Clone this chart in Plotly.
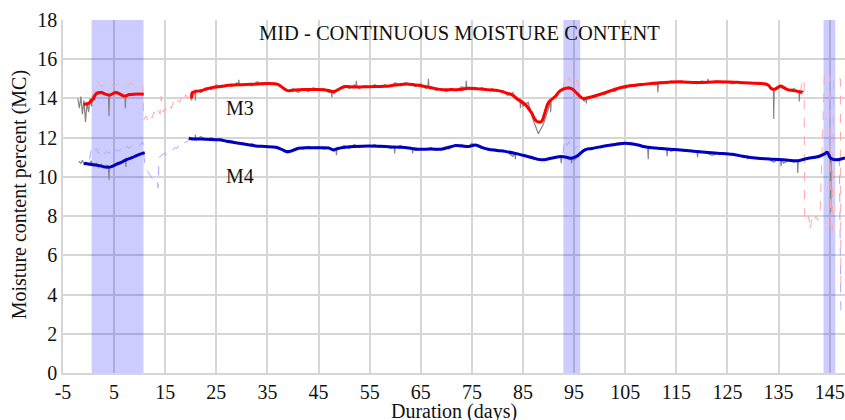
import plotly.graph_objects as go

# ---------------- data ----------------
x_ticks = [-5, 5, 15, 25, 35, 45, 55, 65, 75, 85, 95, 105, 115, 125, 135, 145]
y_ticks = [0, 2, 4, 6, 8, 10, 12, 14, 16, 18]

# shaded periods (days)
shade_start = [0.6, 92.9, 143.8]
shade_end = [10.75, 96.2, 146.1]

# M3 smoothed (red)
m3_s1_days = [-1.0, 0.0, 0.8, 1.6, 2.5, 3.3, 4.2, 5.3, 6.2, 7.0, 8.0, 9.0, 10.8]
m3_s1_vals = [13.7, 13.75, 13.95, 14.27, 14.3, 14.22, 14.18, 14.3, 14.22, 14.12, 14.2, 14.22, 14.22]
m3_s2_days = [20.2, 20.3, 22, 24, 26, 28, 30, 32, 35, 37, 38, 39, 40, 42, 45, 47, 48, 50, 52, 55, 58, 60,
              62.6, 65, 67, 69, 71, 72.5, 74.3, 76, 78, 80.2, 81.5, 82.7, 84, 85.4, 86.6, 87.6, 88.6, 89.2,
              90, 91.3, 92.3, 93.4, 94.5, 95.4, 96.4, 96.8, 98, 100, 102, 104.2, 106, 108.9, 112, 115.3,
              119.2, 123, 127, 130, 132.9, 133.6, 134.3, 134.8, 135.4, 136.1, 136.8, 138, 139.7]
m3_s2_vals = [14.0, 14.3, 14.4, 14.55, 14.62, 14.68, 14.7, 14.72, 14.76, 14.72, 14.55, 14.4, 14.42, 14.45,
              14.45, 14.4, 14.35, 14.6, 14.58, 14.6, 14.62, 14.68, 14.73, 14.65, 14.55, 14.45, 14.45, 14.45,
              14.52, 14.5, 14.45, 14.4, 14.3, 14.2, 13.95, 13.7, 13.3, 12.85, 12.82, 13.2, 13.8, 14.1, 14.4,
              14.52, 14.5, 14.3, 14.05, 14.0, 14.05, 14.2, 14.38, 14.56, 14.65, 14.73, 14.8, 14.85, 14.81,
              14.85, 14.82, 14.78, 14.7, 14.5, 14.47, 14.55, 14.64, 14.55, 14.45, 14.4, 14.3]

# M4 smoothed (blue)
m4_s1_days = [-0.9, 1, 2.5, 3.6, 4.5, 5.5, 6.5, 7.3, 8.5, 9.5, 11]
m4_s1_vals = [10.68, 10.62, 10.55, 10.49, 10.52, 10.65, 10.75, 10.87, 10.98, 11.1, 11.24]
m4_s2_days = [19.6, 20, 22, 25.5, 27, 29.4, 31, 32.7, 34.5, 36.6, 37.8, 38.8, 40, 41.1, 43, 45, 47, 47.9,
              48.8, 50.3, 52, 54.8, 58, 61.2, 63, 64.5, 67, 69, 70.5, 71.8, 73, 74.5, 75.7, 77, 78.2, 80,
              81.5, 83.5, 85, 86.5, 88.6, 90.5, 92.5, 93.5, 94.4, 95.5, 97.1, 98.5, 101, 103, 105, 107.5,
              108.5, 109.5, 112, 115.3, 118, 120, 123.1, 126, 128, 130.9, 134, 136, 138.8, 140, 142, 143,
              144, 144.5, 145.2, 146.2, 148]
m4_s2_vals = [11.97, 11.95, 11.93, 11.89, 11.82, 11.72, 11.65, 11.58, 11.55, 11.51, 11.4, 11.29, 11.35,
              11.46, 11.48, 11.48, 11.47, 11.38, 11.45, 11.51, 11.55, 11.58, 11.55, 11.51, 11.46, 11.41,
              11.42, 11.41, 11.5, 11.6, 11.58, 11.55, 11.63, 11.5, 11.41, 11.35, 11.3, 11.2, 11.1, 11.0,
              10.87, 10.95, 11.04, 11.0, 10.95, 11.05, 11.38, 11.45, 11.58, 11.65, 11.72, 11.63, 11.55,
              11.51, 11.45, 11.38, 11.32, 11.27, 11.21, 11.15, 11.05, 10.95, 10.9, 10.87, 10.82, 10.9,
              11.0, 11.05, 11.17, 11.25, 10.95, 10.87, 10.97]

# Raw readings (gray)
g3_s1_days = [-2.1, -1.8, -1.5, -1.2, -0.9, -0.6, -0.3, 0, 0.3, 0.6, 0.9, 1.2, 1.5, 2, 2.5, 3, 3.5, 3.9,
              4.0, 4.1, 5, 5.5, 6, 6.5, 7.1, 7.2, 7.3, 8, 8.5, 9, 9.5, 10, 10.5]
g3_s1_vals = [14.0, 13.5, 14.1, 13.2, 13.9, 12.8, 13.8, 13.3, 14.0, 13.6, 14.2, 13.9, 14.3, 14.2, 14.3,
              14.2, 14.2, 14.15, 13.1, 14.1, 14.3, 14.25, 14.2, 14.1, 14.15, 13.5, 14.1, 14.2, 14.15,
              14.25, 14.2, 14.2, 14.2]
g3_s2_days = list(range(20, 141))
g3_s2_vals = [13.9, 14.45, 14.3, 14.55, 14.45, 14.7, 14.55, 14.7, 14.6, 14.8, 14.65, 14.75, 14.65, 14.85,
              14.7, 14.8, 14.7, 14.75, 14.5, 14.35, 14.5, 14.3, 14.5, 14.35, 14.55, 14.4, 14.5, 14.3,
              14.25, 14.5, 14.65, 14.5, 14.7, 14.5, 14.65, 14.55, 14.7, 14.55, 14.7, 14.6, 14.8, 14.65,
              14.8, 14.7, 14.6, 14.75, 14.5, 14.6, 14.4, 14.5, 14.35, 14.5, 14.4, 14.6, 14.5, 14.45, 14.45,
              14.55, 14.4, 14.5, 14.35, 14.4, 14.15, 14.3, 13.9, 13.6, 13.8, 12.9, 12.2, 12.7, 13.5, 14.0,
              14.3, 14.45, 14.6, 14.4, 14.2, 13.85, 14.1, 14.05, 14.25, 14.2, 14.4, 14.35, 14.6, 14.5,
              14.7, 14.6, 14.75, 14.7, 14.75, 14.7, 14.85, 14.75, 14.9, 14.8, 14.9, 14.8, 14.85, 14.75,
              14.9, 14.8, 14.85, 14.9, 14.8, 14.85, 14.75, 14.85, 14.8, 14.75, 14.8, 14.7, 14.75, 14.6,
              14.5, 14.6, 14.5, 14.4, 14.5, 14.35, 14.35]
# thin spikes in the raw M3 trace (shoulder, tip, shoulder)
g3_spk_days = [20.8, 20.9, 21.05, 29.3, 29.4, 29.5, 47.5, 47.6, 47.7, 52.3, 52.4, 52.5, 66.4, 66.5, 66.6,
               73.8, 73.9, 74.05, 84.4, 84.5, 84.6, 90.3, 90.4, 90.55, 97.3, 97.4, 97.5, 111.3, 111.4,
               111.5, 121.1, 121.2, 121.3, 133.9, 134.05, 134.15, 138.9, 139.05, 139.15]
g3_spk_vals = [14.35, 13.9, 14.4, 14.7, 14.95, 14.7, 14.35, 14.05, 14.35, 14.6, 14.9, 14.6, 14.6, 15.0,
               14.6, 14.5, 14.9, 14.5, 14.0, 13.5, 13.95, 13.9, 13.3, 13.95, 14.05, 13.75, 14.05, 14.8,
               14.3, 14.8, 14.85, 15.0, 14.85, 14.5, 12.95, 14.5, 14.4, 13.85, 14.4]

g4_s1_days = [-1.9, -1.5, -1.2, -0.9, -0.5, 0, 0.5, 1, 1.5, 2, 2.5, 3, 3.5, 3.9, 4, 4.1, 4.5, 5, 6, 7,
              7.2, 7.3, 7.4, 8, 9, 10, 10.5]
g4_s1_vals = [10.8, 10.7, 10.85, 10.65, 10.75, 10.6, 10.8, 10.55, 10.7, 10.5, 10.65, 10.45, 10.6, 10.55,
              9.85, 10.5, 10.55, 10.6, 10.7, 10.8, 10.85, 10.5, 10.9, 10.95, 11.05, 11.15, 11.2]
g4_s2_days = list(range(20, 148))
g4_s2_vals = [12.0, 11.85, 12.05, 11.9, 12.0, 11.85, 11.95, 11.8, 11.85, 11.7, 11.75, 11.6, 11.7, 11.55,
              11.6, 11.5, 11.55, 11.45, 11.35, 11.2, 11.4, 11.5, 11.4, 11.55, 11.45, 11.55, 11.4, 11.5,
              11.3, 11.45, 11.6, 11.45, 11.65, 11.5, 11.6, 11.55, 11.65, 11.5, 11.6, 11.45, 11.55, 11.6,
              11.45, 11.5, 11.35, 11.45, 11.4, 11.5, 11.35, 11.45, 11.55, 11.6, 11.55, 11.65, 11.5, 11.7,
              11.55, 11.45, 11.4, 11.35, 11.3, 11.35, 11.25, 11.05, 11.2, 11.1, 11.0, 10.9, 10.85, 10.9,
              10.95, 11.0, 11.05, 11.0, 11.0, 10.85, 11.1, 11.3, 11.45, 11.5, 11.55, 11.6, 11.65, 11.7,
              11.75, 11.7, 11.75, 11.65, 11.6, 11.55, 11.5, 11.45, 11.5, 11.4, 11.3, 11.4, 11.35, 11.3,
              11.35, 11.3, 11.3, 11.2, 11.1, 11.2, 11.15, 11.2, 11.1, 11.15, 11.0, 11.05, 10.95, 11.0,
              10.9, 10.95, 10.75, 10.9, 10.7, 10.85, 10.75, 10.8, 10.9, 11.0, 10.95, 11.1, 11.2, 11.3,
              10.9, 10.95]
g4_spk_days = [20.8, 20.9, 21.05, 48.4, 48.5, 48.6, 59.8, 59.9, 60.05, 63.3, 63.4, 63.5, 83.4, 83.5, 83.6,
               92.35, 92.5, 92.6, 94.4, 94.5, 94.6, 109.4, 109.5, 109.6, 113.1, 113.2, 113.3, 119.05,
               119.15, 119.25, 128.8, 128.9, 128.95, 135.4, 135.5, 135.6, 138.7, 138.75, 138.85, 145.1,
               145.2, 145.3]
g4_spk_vals = [11.95, 12.15, 11.95, 11.4, 11.1, 11.4, 11.5, 11.2, 11.5, 11.45, 11.2, 11.45, 11.2, 10.9,
               11.2, 11.0, 10.7, 11.0, 10.95, 10.7, 10.95, 11.5, 10.9, 11.5, 11.4, 11.05, 11.4, 11.3,
               11.0, 11.3, 11.05, 10.9, 11.05, 10.85, 10.55, 10.85, 10.8, 10.2, 10.8, 11.2, 8.2, 11.0]

# Alternate sensor readings (dashed)
p3_s1_days = [0.5, 1.0, 1.7, 2.2, 2.8, 3.4, 4.0, 4.6, 5.2, 5.8, 6.4, 7.0, 7.6, 8.2, 8.8, 9.4, 10.0, 10.6,
              10.8, 11.2, 11.6, 12.0, 12.4, 12.8, 13.2, 13.6, 14.0, 14.2, 14.6, 15.0, 15.4, 15.8, 16.2,
              16.6, 17.0, 17.4, 17.8, 18.2, 18.6, 19.0, 19.4, 19.8, 20.2]
p3_s1_vals = [14.0, 14.3, 14.85, 14.7, 14.6, 14.75, 14.65, 14.7, 14.6, 14.75, 14.65, 14.7, 14.6, 14.8,
              14.65, 14.7, 14.7, 14.65, 12.9, 13.1, 12.9, 13.2, 13.0, 13.3, 13.1, 13.4, 13.2, 14.1, 13.3,
              13.5, 13.3, 13.6, 13.5, 13.8, 13.6, 13.9, 13.8, 14.1, 13.9, 14.2, 14.0, 14.3, 14.2]
p3_s2_days = [92.8, 93.2, 93.6, 94.0, 94.4, 94.8, 95.2, 95.6, 96.0, 96.3]
p3_s2_vals = [14.4, 15.1, 14.9, 15.05, 14.85, 15.0, 14.8, 14.95, 14.6, 14.3]
p3_s3_days = [139.3, 139.6, 140.0, 140.1, 140.5, 140.9, 141.2, 141.5, 141.9, 142.3, 142.7, 143.1, 144.0,
              144.6, 145.0, 145.2, 145.5, 145.8, 146.5, 147.1, 147.2]
p3_s3_vals = [14.3, 15.0, 14.9, 7.9, 7.7, 8.0, 7.3, 7.9, 7.7, 8.0, 7.8, 7.9, 15.4, 15.3, 15.2, 7.1, 7.2,
              15.1, 15.0, 15.0, 4.0]

b4_s1_days = [0.2, 0.6, 1.0, 1.5, 2.0, 2.5, 3.0, 3.5, 4.0, 4.5, 5.0, 5.5, 6.0, 6.5, 7.0, 7.5, 8.0, 8.5,
              9.0, 9.5, 10.0, 10.6, 11.0, 11.5, 12.0, 12.5, 13.0, 13.4, 13.6, 13.8, 14.3, 14.8, 15.3,
              15.8, 16.3, 16.8, 17.3, 17.8, 18.3, 18.8, 19.3, 19.7]
b4_s1_vals = [10.9, 11.5, 11.3, 11.45, 11.2, 11.4, 11.15, 11.3, 11.2, 11.45, 11.25, 11.4, 11.3, 11.5,
              11.35, 11.55, 11.45, 11.6, 11.5, 11.65, 11.6, 11.8, 10.6, 10.3, 10.1, 9.9, 9.7, 9.8, 9.45,
              11.0, 11.1, 11.2, 11.15, 11.35, 11.3, 11.5, 11.45, 11.7, 11.6, 11.75, 11.8, 11.9]
b4_s2_days = [92.8, 93.2, 93.6, 94.0, 94.4, 94.8, 95.2, 95.6, 96.0, 96.3]
b4_s2_vals = [11.2, 11.9, 11.6, 11.8, 11.5, 11.75, 11.45, 11.6, 11.3, 11.1]
b4_s3_days = [146.9, 147.2]
b4_s3_vals = [11.0, 2.9]

# ---------------- figure ----------------
SERIF = "Liberation Serif"
GRID = "#d6d6d6"
GRAY = "#858585"

fig = go.Figure()


def seg(days, vals, color, width, dash="solid", shape="linear"):
    pts = sorted(zip(days, vals))
    fig.add_trace(go.Scatter(
        x=[p[0] for p in pts], y=[p[1] for p in pts], mode="lines",
        line=dict(color=color, width=width, dash=dash, shape=shape),
        hoverinfo="skip", showlegend=False))


# raw gray
seg(g3_s1_days, g3_s1_vals, GRAY, 1.2)
seg(g3_s2_days + g3_spk_days, g3_s2_vals + g3_spk_vals, GRAY, 1.2)
seg(g4_s1_days, g4_s1_vals, GRAY, 1.2)
seg(g4_s2_days + g4_spk_days, g4_s2_vals + g4_spk_vals, GRAY, 1.2)

# dashed alternates
for d, v in [(b4_s1_days, b4_s1_vals), (b4_s2_days, b4_s2_vals), (b4_s3_days, b4_s3_vals)]:
    seg(d, v, "#a9a9ff", 1, dash="dash")
for d, v in [(p3_s1_days, p3_s1_vals), (p3_s2_days, p3_s2_vals), (p3_s3_days, p3_s3_vals)]:
    seg(d, v, "#ffa8a8", 1, dash="dash")

# smoothed
seg(m3_s1_days, m3_s1_vals, "#ff0000", 3, shape="spline")
seg(m3_s2_days, m3_s2_vals, "#ff0000", 3, shape="spline")
seg(m4_s1_days, m4_s1_vals, "#0000c0", 3, shape="spline")
seg(m4_s2_days, m4_s2_vals, "#0000c0", 3, shape="spline")

for a, b in zip(shade_start, shade_end):
    fig.add_shape(type="rect", xref="x", yref="y", x0=a, x1=b, y0=0, y1=18,
                  fillcolor="rgba(0,0,255,0.2)", line=dict(width=0), layer="between")

fig.add_annotation(text="M3", x=29.6, y=13.5, xref="x", yref="y", showarrow=False,
                   font=dict(family=SERIF, size=20, color="#111"))
fig.add_annotation(text="M4", x=29.6, y=10.04, xref="x", yref="y", showarrow=False,
                   font=dict(family=SERIF, size=20, color="#111"))
fig.add_annotation(text="MID - CONTINUOUS MOISTURE CONTENT", x=0.507, y=0.963, xref="paper",
                   yref="paper", showarrow=False, xanchor="center", yanchor="middle",
                   font=dict(family=SERIF, size=20.5, color="#111"))
fig.add_annotation(text="Moisture content percent (MC)", x=-0.056, y=0.504, xref="paper",
                   yref="paper", showarrow=False, textangle=-90, xanchor="center", yanchor="middle",
                   font=dict(family=SERIF, size=20, color="#111"))
fig.add_annotation(text="Duration (days)", x=0.5, y=-0.108, xref="paper", yref="paper",
                   showarrow=False, xanchor="center", yanchor="middle",
                   font=dict(family=SERIF, size=20, color="#111"))

fig.update_layout(
    width=845, height=420,
    margin=dict(l=63, r=0, t=20, b=47),
    paper_bgcolor="white", plot_bgcolor="white",
    font=dict(family=SERIF, size=20, color="#111"),
    xaxis=dict(range=[-5, 148], tickvals=x_ticks, ticktext=[str(t) for t in x_ticks],
               showgrid=True, gridcolor=GRID, gridwidth=1.5, zeroline=False, automargin=False,
               showline=True, linecolor=GRID, linewidth=1.5, ticks="", ticklabelstandoff=0,
               tickfont=dict(family=SERIF, size=20, color="#111")),
    yaxis=dict(range=[0, 18], tickvals=y_ticks, ticktext=[str(t) for t in y_ticks],
               showgrid=True, gridcolor=GRID, gridwidth=1.5, zeroline=False, automargin=False,
               showline=True, linecolor=GRID, linewidth=1.5, ticks="",
               tickfont=dict(family=SERIF, size=20, color="#111")),
)

fig.write_html("out.html", config={"displayModeBar": False},
               post_script="document.body.style.margin='0px';document.body.style.overflow='hidden';")
